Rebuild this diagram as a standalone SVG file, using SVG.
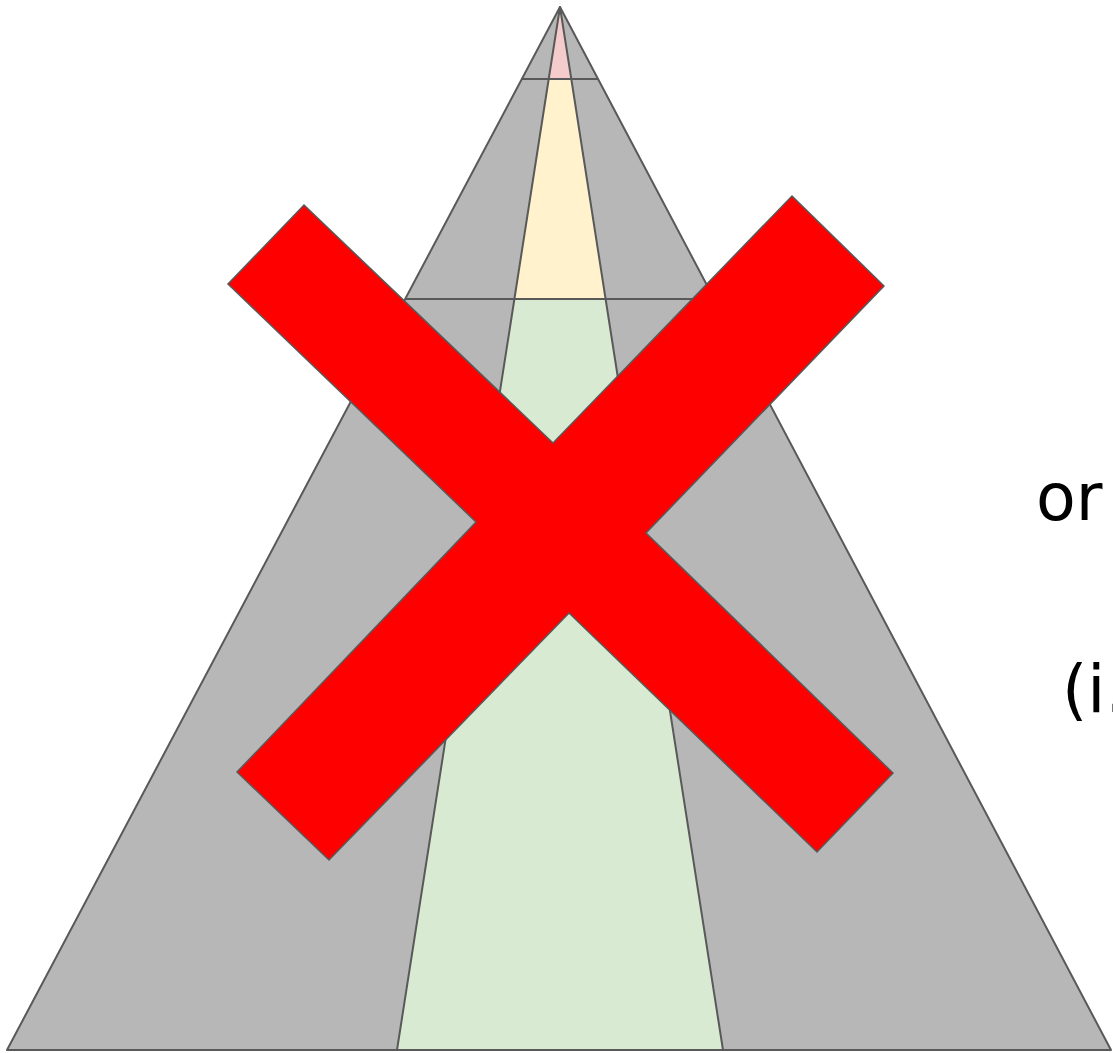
<svg xmlns="http://www.w3.org/2000/svg" width="1113" height="1053" viewBox="0 0 1113 1053">
<style>
.s{stroke:#595959;stroke-width:2;stroke-linejoin:round}
.t{font-family:"DejaVu Sans",sans-serif;font-size:65px;fill:#000}
</style>
<rect width="1113" height="1053" fill="#fff"/>
<g id="pyramid">
<polygon class="s" points="560,7 7,1050 1111,1050" fill="#b7b7b7"/>
<polygon id="top" class="s" points="560,7 548.7,79 571.3,79" fill="#f4cccc"/>
<polygon id="middle" class="s" points="548.7,79 571.3,79 605.6,299 514.4,299" fill="#fff2cc"/>
<polygon id="bottom" class="s" points="514.4,299 605.6,299 723,1050 397,1050" fill="#d9ead3"/>
<line class="s" x1="521.8" y1="79" x2="598.2" y2="79"/>
<line class="s" x1="405.2" y1="299" x2="714.8" y2="299"/>
</g>
<g id="cross">
<polygon points="304,205 553,443 792,196 884,286 646,533 893,773 817,852 569,613 329,860 237,772 476,522 228,284" fill="#ff0000" stroke="#595959" stroke-width="1.5" stroke-linejoin="miter"/>
</g>
<g id="labels">
<text class="t" x="1036" y="520">or</text>
<text class="t" x="1062" y="712">(i.</text>
</g>
</svg>
